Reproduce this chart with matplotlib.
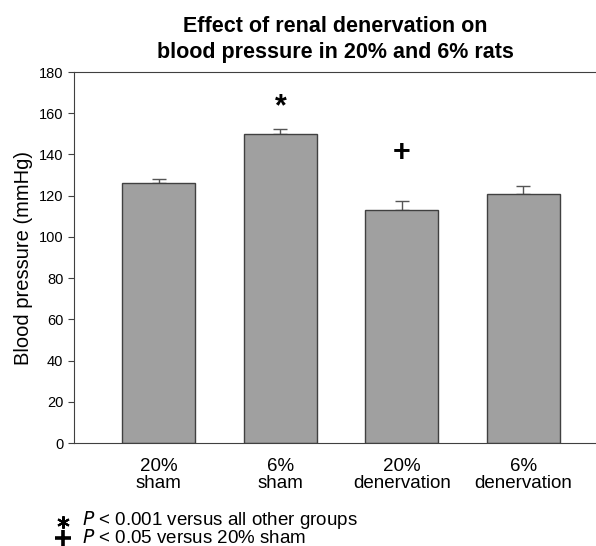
import numpy as np
import matplotlib.pyplot as plt
from matplotlib.lines import Line2D

plt.rcParams['font.family'] = ['Liberation Sans', 'DejaVu Sans']

# values
groups = ['20%\nsham', '6%\nsham', '20%\ndenervation', '6%\ndenervation']
bp_mean = [126, 150, 113, 120.7]
bp_err = [2, 2.5, 4.5, 4]
marks = ['', '*', '+', '']
mark_y = [0, 163, 140.5, 0]

fig = plt.figure(figsize=(5.96, 5.46), dpi=100)
ax = fig.add_axes([0.124, 0.1886, 0.876, 0.6795])

x = np.arange(len(groups))
ax.bar(x, bp_mean, width=0.6, color='#a0a0a0', edgecolor='#404040', linewidth=1.0, zorder=2)
ax.errorbar(x, bp_mean, yerr=[np.zeros(len(bp_err)), bp_err], fmt='none',
            ecolor='#555555', elinewidth=1.0, capsize=5, capthick=1.0, zorder=1)

for xi, m, my in zip(x, marks, mark_y):
    if m:
        ax.text(xi, my, m, ha='center', va='center', fontsize=22, fontweight='bold')

ax.set_xlim(-0.7, 3.6)
ax.set_ylim(0, 180)
ax.set_yticks(np.arange(0, 181, 20))
ax.tick_params(axis='y', labelsize=10.5, direction='out', length=4, color='#404040')
ax.set_xticks(x)
ax.set_xticklabels(groups, fontsize=13.5, linespacing=1.0)
ax.tick_params(axis='x', length=0, pad=11)
for s in ['left', 'top', 'bottom']:
    ax.spines[s].set_color('#404040')
ax.spines['right'].set_visible(False)
ax.set_ylabel('Blood pressure (mmHg)', fontsize=14.5, labelpad=4)

fig.text(0.562, 0.9277, 'Effect of renal denervation on\nblood pressure in 20% and 6% rats',
         ha='center', va='center', fontsize=15.5, fontweight='bold', linespacing=1.3)

# footnote symbols
fig.add_artist(Line2D([0.1057], [0.0445], marker=(6, 2, 0), markersize=9,
                      markeredgewidth=1.5, color='black', transform=fig.transFigure))
fig.add_artist(Line2D([0.1057], [0.0155], marker='+', markersize=11,
                      markeredgewidth=2.6, color='black', transform=fig.transFigure))
fig.text(0.138, 0.0485, r'$\it{P}$ < 0.001 versus all other groups', ha='left', va='center', fontsize=13.5)
fig.text(0.138, 0.0145, r'$\it{P}$ < 0.05 versus 20% sham', ha='left', va='center', fontsize=13.5)

fig.savefig('out.png', dpi=100)
